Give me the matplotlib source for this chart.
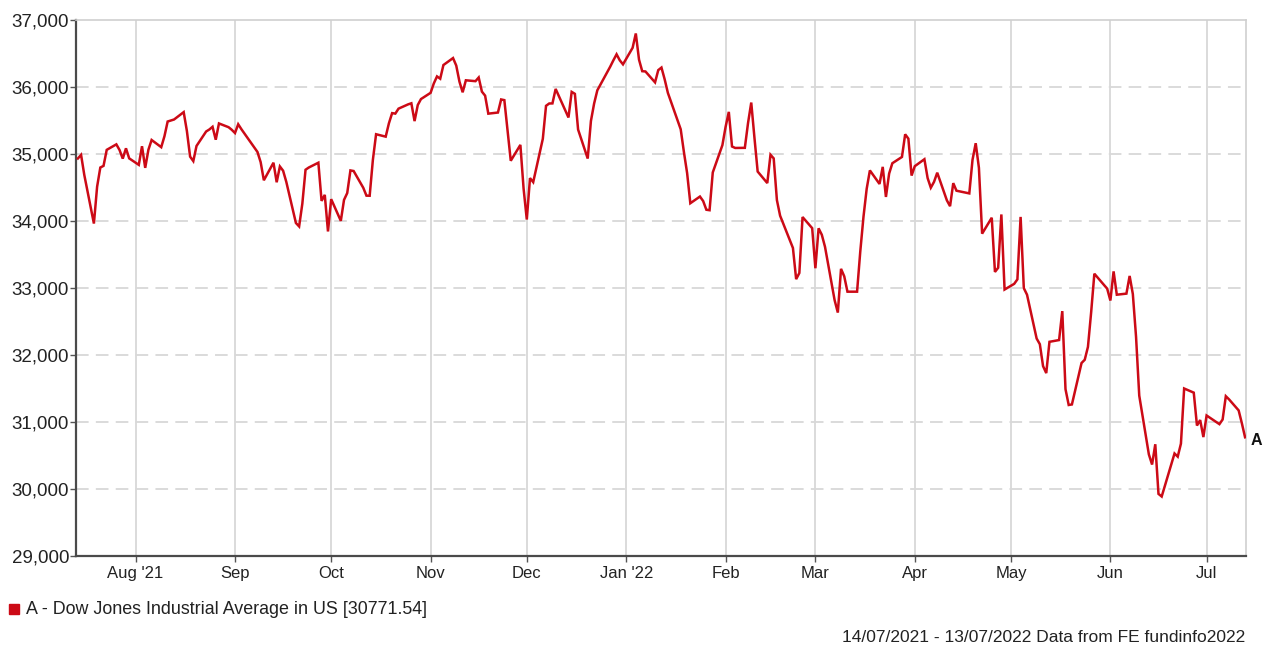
import matplotlib
matplotlib.use("Agg")
import matplotlib.pyplot as plt
from matplotlib.patches import Rectangle
import pandas as pd

# daily closes, Dow Jones Industrial Average
days = [
    "2021-07-14", "2021-07-15", "2021-07-16", "2021-07-19", "2021-07-20", "2021-07-21", "2021-07-22",
    "2021-07-23", "2021-07-26", "2021-07-27", "2021-07-28", "2021-07-29", "2021-07-30",
    "2021-08-02", "2021-08-03", "2021-08-04", "2021-08-05", "2021-08-06", "2021-08-09", "2021-08-10",
    "2021-08-11", "2021-08-12", "2021-08-13", "2021-08-16", "2021-08-17", "2021-08-18", "2021-08-19",
    "2021-08-20", "2021-08-23", "2021-08-24", "2021-08-25", "2021-08-26", "2021-08-27", "2021-08-30",
    "2021-08-31",
    "2021-09-01", "2021-09-02", "2021-09-03", "2021-09-07", "2021-09-08", "2021-09-09", "2021-09-10",
    "2021-09-13", "2021-09-14", "2021-09-15", "2021-09-16", "2021-09-17", "2021-09-20", "2021-09-21",
    "2021-09-22", "2021-09-23", "2021-09-24", "2021-09-27", "2021-09-28", "2021-09-29", "2021-09-30",
    "2021-10-01", "2021-10-04", "2021-10-05", "2021-10-06", "2021-10-07", "2021-10-08", "2021-10-11",
    "2021-10-12", "2021-10-13", "2021-10-14", "2021-10-15", "2021-10-18", "2021-10-19", "2021-10-20",
    "2021-10-21", "2021-10-22", "2021-10-25", "2021-10-26", "2021-10-27", "2021-10-28", "2021-10-29",
    "2021-11-01", "2021-11-02", "2021-11-03", "2021-11-04", "2021-11-05", "2021-11-08", "2021-11-09",
    "2021-11-10", "2021-11-11", "2021-11-12", "2021-11-15", "2021-11-16", "2021-11-17", "2021-11-18",
    "2021-11-19", "2021-11-22", "2021-11-23", "2021-11-24", "2021-11-26", "2021-11-29", "2021-11-30",
    "2021-12-01", "2021-12-02", "2021-12-03", "2021-12-06", "2021-12-07", "2021-12-08", "2021-12-09",
    "2021-12-10", "2021-12-13", "2021-12-14", "2021-12-15", "2021-12-16", "2021-12-17", "2021-12-20",
    "2021-12-21", "2021-12-22", "2021-12-23", "2021-12-27", "2021-12-28", "2021-12-29", "2021-12-30",
    "2021-12-31",
    "2022-01-03", "2022-01-04", "2022-01-05", "2022-01-06", "2022-01-07", "2022-01-10", "2022-01-11",
    "2022-01-12", "2022-01-13", "2022-01-14", "2022-01-18", "2022-01-19", "2022-01-20", "2022-01-21",
    "2022-01-24", "2022-01-25", "2022-01-26", "2022-01-27", "2022-01-28", "2022-01-31",
    "2022-02-01", "2022-02-02", "2022-02-03", "2022-02-04", "2022-02-07", "2022-02-08", "2022-02-09",
    "2022-02-10", "2022-02-11", "2022-02-14", "2022-02-15", "2022-02-16", "2022-02-17", "2022-02-18",
    "2022-02-22", "2022-02-23", "2022-02-24", "2022-02-25", "2022-02-28",
    "2022-03-01", "2022-03-02", "2022-03-03", "2022-03-04", "2022-03-07", "2022-03-08", "2022-03-09",
    "2022-03-10", "2022-03-11", "2022-03-14", "2022-03-15", "2022-03-16", "2022-03-17", "2022-03-18",
    "2022-03-21", "2022-03-22", "2022-03-23", "2022-03-24", "2022-03-25", "2022-03-28", "2022-03-29",
    "2022-03-30", "2022-03-31",
    "2022-04-01", "2022-04-04", "2022-04-05", "2022-04-06", "2022-04-07", "2022-04-08", "2022-04-11",
    "2022-04-12", "2022-04-13", "2022-04-14", "2022-04-18", "2022-04-19", "2022-04-20", "2022-04-21",
    "2022-04-22", "2022-04-25", "2022-04-26", "2022-04-27", "2022-04-28", "2022-04-29",
    "2022-05-02", "2022-05-03", "2022-05-04", "2022-05-05", "2022-05-06", "2022-05-09", "2022-05-10",
    "2022-05-11", "2022-05-12", "2022-05-13", "2022-05-16", "2022-05-17", "2022-05-18", "2022-05-19",
    "2022-05-20", "2022-05-23", "2022-05-24", "2022-05-25", "2022-05-26", "2022-05-27", "2022-05-31",
    "2022-06-01", "2022-06-02", "2022-06-03", "2022-06-06", "2022-06-07", "2022-06-08", "2022-06-09",
    "2022-06-10", "2022-06-13", "2022-06-14", "2022-06-15", "2022-06-16", "2022-06-17", "2022-06-21",
    "2022-06-22", "2022-06-23", "2022-06-24", "2022-06-27", "2022-06-28", "2022-06-29", "2022-06-30",
    "2022-07-01", "2022-07-05", "2022-07-06", "2022-07-07", "2022-07-08", "2022-07-11", "2022-07-12",
    "2022-07-13",
]
closes = [
    34933, 34987, 34688, 33962, 34512, 34798, 34823, 35062, 35144, 35059, 34931, 35085, 34935,
    34838, 35116, 34793, 35064, 35209, 35102, 35265, 35485, 35500, 35515, 35625, 35343, 34961, 34894,
    35120, 35336, 35366, 35406, 35213, 35456, 35400, 35361,
    35313, 35444, 35370, 35100, 35031, 34879, 34608, 34870, 34578, 34814, 34751, 34584, 33970, 33919,
    34258, 34765, 34798, 34870, 34300, 34390, 33844,
    34326, 34002, 34315, 34417, 34755, 34746, 34496, 34378, 34377, 34912, 35295, 35259, 35458, 35610,
    35603, 35677, 35741, 35757, 35491, 35731, 35820,
    35913, 36053, 36158, 36124, 36328, 36432, 36320, 36080, 35921, 36100, 36087, 36142, 35931, 35871,
    35602, 35619, 35814, 35804, 34899, 35136, 34484,
    34022, 34640, 34580, 35227, 35719, 35754, 35755, 35971, 35650, 35545, 35927, 35898, 35365, 34932,
    35493, 35754, 35951, 36302, 36398, 36488, 36398, 36338,
    36585, 36799, 36408, 36236, 36232, 36069, 36252, 36290, 36114, 35912, 35369, 35029, 34715, 34265,
    34365, 34298, 34168, 34161, 34725, 35132,
    35405, 35629, 35112, 35090, 35092, 35463, 35768, 35241, 34738, 34566, 34989, 34934, 34312, 34079,
    33597, 33132, 33224, 34059, 33893,
    33295, 33891, 33795, 33615, 32818, 32633, 33286, 33174, 32945, 32945, 33545, 34063, 34481, 34755,
    34553, 34808, 34359, 34708, 34862, 34956, 35294, 35229, 34678,
    34818, 34922, 34641, 34497, 34584, 34721, 34309, 34221, 34565, 34452, 34412, 34912, 35161, 34793,
    33811, 34049, 33240, 33302, 34098, 32977,
    33062, 33129, 34061, 32998, 32900, 32246, 32161, 31834, 31730, 32197, 32223, 32655, 31490, 31254,
    31262, 31880, 31929, 32121, 32637, 33213, 32990,
    32813, 33248, 32900, 32916, 33180, 32910, 32273, 31393, 30516, 30365, 30668, 29927, 29888, 30530,
    30483, 30677, 31500, 31438, 30947, 31029, 30775,
    31097, 30968, 31037, 31385, 31338, 31173, 30981, 30772,
]

month_starts = ["2021-08-01", "2021-09-01", "2021-10-01", "2021-11-01", "2021-12-01", "2022-01-01",
                "2022-02-01", "2022-03-01", "2022-04-01", "2022-05-01", "2022-06-01", "2022-07-01"]
month_labels = ["Aug '21", "Sep", "Oct", "Nov", "Dec", "Jan '22",
                "Feb", "Mar", "Apr", "May", "Jun", "Jul"]
y_ticks = [29000, 30000, 31000, 32000, 33000, 34000, 35000, 36000, 37000]

series_label = "A - Dow Jones Industrial Average in US [30771.54]"
footer = "14/07/2021 - 13/07/2022 Data from FE fundinfo2022"

RED = "#cc0a16"
GRID = "#d8d8d8"
TXT = "#222222"
plt.rcParams["font.family"] = ["Liberation Sans", "DejaVu Sans"]

W, H = 1268, 646
fig = plt.figure(figsize=(W / 100, H / 100), dpi=100)
ax = fig.add_axes([76 / W, 1 - 556 / H, (1246 - 76) / W, (556 - 20) / H])

x = pd.to_datetime(days)
ticks = pd.to_datetime(month_starts)

for t in ticks:
    ax.axvline(t, color=GRID, lw=1.3, zorder=1)
for v in y_ticks[1:-1]:
    ax.axhline(v, color=GRID, lw=1.3, dashes=(7, 4), zorder=1)

ax.plot(x, closes, color=RED, lw=1.8, solid_joinstyle="miter", zorder=3)
ax.annotate("A", xy=(x[-1], closes[-1]), xytext=(4, -2), textcoords="offset points",
            ha="left", va="center", fontsize=11.5, fontweight="bold", color="#111111",
            annotation_clip=False)

ax.set_xlim(pd.Timestamp("2021-07-13 10:00"), pd.Timestamp("2022-07-13 07:00"))
ax.set_ylim(29000, 37000)
ax.set_xticks(ticks)
ax.set_xticklabels(month_labels)
ax.set_yticks(y_ticks)
ax.set_yticklabels([f"{v:,}" for v in y_ticks])
ax.tick_params(length=4, width=1, color="#555555", labelcolor=TXT)
ax.tick_params(axis="x", labelsize=12, pad=3)
ax.tick_params(axis="y", labelsize=13.5, pad=1)

for side in ("left", "bottom"):
    ax.spines[side].set_color("#4a4a4a")
    ax.spines[side].set_linewidth(1.6)
for side in ("top", "right"):
    ax.spines[side].set_color("#cfcfcf")
    ax.spines[side].set_linewidth(1.2)

fig.patches.append(Rectangle((9 / W, 1 - 614 / H), 10 / W, 10 / H,
                             transform=fig.transFigure, color=RED))
fig.text(26 / W, 1 - 610 / H, series_label, ha="left", va="center", fontsize=12.9, color=TXT)
fig.text(1245 / W, 1 - 637 / H, footer, ha="right", va="center", fontsize=12.5, color=TXT)

fig.savefig("out.png", dpi=100, facecolor="white")
